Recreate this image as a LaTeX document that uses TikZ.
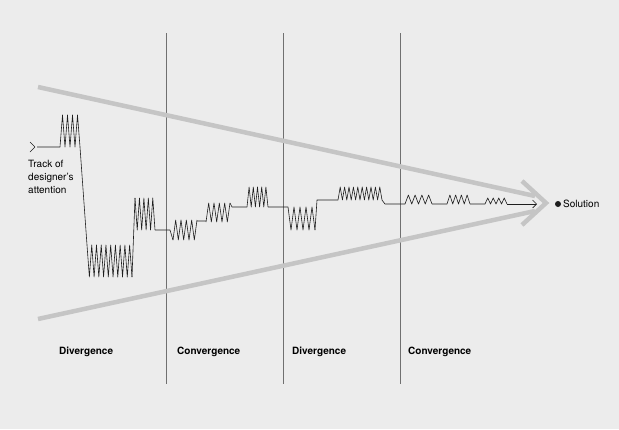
\documentclass[tikz,border=0pt]{standalone}
\usepackage{fontspec}
\setmainfont{TeX Gyre Heros}
\usepackage{tikz}
\usetikzlibrary{positioning, arrows.meta}
\definecolor{paper}{RGB}{236, 236, 236}
\definecolor{funnelgrey}{RGB}{197, 197, 197}
\definecolor{phasegrey}{RGB}{112, 112, 112}
\definecolor{ink}{RGB}{30, 30, 30}
\newcommand{\zigblock}[5]{
\draw[track] (#1,#3) \foreach \i in {1,...,#5} { -- ({#1+\i*(#2-#1)/#5}, {#3+(#4-#3)*mod(\i,2)}) };
}

\begin{document}
\begin{tikzpicture}[x=1pt, y=-1pt,
    track/.style={ink, line width=0.6pt, line join=round},
    funnel/.style={funnelgrey, line width=4.5pt},
    phase/.style={phasegrey, line width=1.6pt},
    tag/.style={font=\fontsize{10}{13}\selectfont, inner sep=0pt},
    phasetag/.style={tag, font=\fontsize{10}{13}\selectfont\bfseries, anchor=west}]
    \fill[paper] (0,0) rectangle (619,429);
    \useasboundingbox (0,0) rectangle (619,429);
    % phase separators
    \foreach \x in {166.5, 283.5, 400.5}
        \draw[phase] (\x,33) -- (\x,384);
    % funnel
    \draw[funnel] (38,87) -- (535,196);
    \draw[funnel] (38,319) -- (535,211);
    \draw[funnel, line join=miter] (522,181) -- (546,203) -- (522,225);
    % track of attention
    \draw[track] (30,142) -- (35,147) -- (30,152);
    \draw[track] (37,147) -- (60,147)
        (80,147) -- (87,245)
        (132,277) -- (135,198)
        (155,230) -- (170,230) -- (173,240)
        (197,221) -- (206,221)
        (230,203) -- (232,207) -- (247,207)
        (268,207) -- (288,207)
        (315,230) -- (317,200) -- (338,200)
        (382,200) -- (385,204) -- (405,204)
        (432,204) -- (447,204)
        (470,204) -- (485,204);
    \zigblock{60}{80}{147}{115}{8}
    \zigblock{87}{132}{245}{277}{19}
    \zigblock{135}{155}{198}{230}{9}
    \zigblock{173}{197}{240}{220}{9}
    \zigblock{206}{230}{222}{203}{9}
    \zigblock{247}{268}{207}{187}{10}
    \zigblock{288}{315}{207}{230}{9}
    \zigblock{338}{382}{200}{187}{20}
    \zigblock{405}{432}{204}{195}{8}
    \zigblock{447}{470}{204}{195}{8}
    \zigblock{485}{507}{204}{198}{8}
    \draw[track, -{Straight Barb[length=4pt, width=8pt]}] (507,204) -- (537,204);
    % labels
    \node[tag, anchor=north west, align=left] (tracklabel) at (28,160) {Track of\\designer's\\attention};
    \fill[ink] (558,204) circle (3pt);
    \node[tag, anchor=west] (solution) at (563,204) {Solution};
    \node[phasetag] (div1) at (59,352) {Divergence};
    \node[phasetag] (conv1) at (177,352) {Convergence};
    \node[phasetag] (div2) at (292,352) {Divergence};
    \node[phasetag] (conv2) at (408,352) {Convergence};
\end{tikzpicture}
\end{document}
